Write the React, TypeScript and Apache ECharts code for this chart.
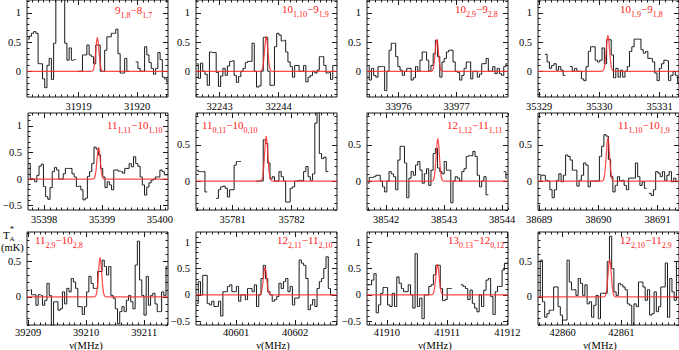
import React, { useEffect, useRef } from "react";
import * as echarts from "echarts";

// ---- data ----
const chanWidth = 0.038; // MHz per channel
const transitions: string[][] = [
  ["9", "1,8", "8", "1,7"],
  ["10", "1,10", "9", "1,9"],
  ["10", "2,9", "9", "2,8"],
  ["10", "1,9", "9", "1,8"],
  ["11", "1,11", "10", "1,10"],
  ["11", "0,11", "10", "0,10"],
  ["12", "1,12", "11", "1,11"],
  ["11", "1,10", "10", "1,9"],
  ["11", "2,9", "10", "2,8"],
  ["12", "2,11", "11", "2,10"],
  ["13", "0,13", "12", "0,12"],
  ["12", "2,10", "11", "2,9"],
];
const xRanges: number[][] = [
  [31918.115, 31920.53], [32242.6, 32244.99], [33975.457, 33977.886], [35328.98, 35331.32],
  [35397.72, 35400.14], [35780.38, 35782.77], [38541.67, 38544.1], [38688.98, 38691.36],
  [39208.98, 39211.41], [40600.32, 40602.71], [41909.67, 41912.01], [42859.58, 42861.98],
];
const yRanges: number[][] = [
  [-0.44, 1.22], [-0.44, 1.22], [-0.44, 1.22], [-0.44, 1.22],
  [-0.58, 1.24], [-0.4, 0.94], [-0.4, 0.94], [-0.4, 0.94],
  [-0.4, 0.92], [-0.57, 1.19], [-0.57, 1.19], [-0.4, 0.92],
];
const xTickLabels: number[][] = [
  [31919, 31920], [32243, 32244], [33976, 33977], [35329, 35330, 35331],
  [35398, 35399, 35400], [35781, 35782], [38542, 38543, 38544], [38689, 38690, 38691],
  [39209, 39210, 39211], [40601, 40602], [41910, 41911, 41912], [42860, 42861],
];
const yTickLabels = [-0.5, 0, 0.5, 1];
const firstChannel = [
  31918.134, 32242.619, 33975.476, 35329.036,
  35397.739, 35780.399, 38541.689, 38689.009,
  39209.039, 40600.339, 41909.689, 42859.599,
];
const fitCenters = [
  31919.32, 32243.79, 33976.66, 35330.14,
  35398.94, 35781.57, 38542.89, 38690.16,
  39210.24, 40601.49, 41910.84, 42860.8,
];
const fitPeaks = [0.58, 0.6, 0.55, 0.62, 0.6, 0.62, 0.59, 0.6, 0.56, 0.53, 0.58, 0.53];
// line profile of the fitted red curve (offset in MHz, fraction of peak)
const fitOffsets = [-0.12, -0.09, -0.075, -0.06, -0.045, -0.03, -0.015, 0, 0.015, 0.03, 0.045, 0.06, 0.075, 0.09, 0.12];
const fitProfile = [0, 0.005, 0.025, 0.094, 0.265, 0.554, 0.86, 1, 0.86, 0.554, 0.265, 0.094, 0.025, 0.005, 0];

const spec1 = [0.55,0.6,0.65,0.68,0.65,0.13,0.13,-0.13,-0.28,0.1,0.22,-0.14,0.48,1.5,1.5,1.5,1.5,0.48,0.19,0.4,0.19,0.2,null,0,0,0.28,0.28,0.45,0.28,0.25,0.13,0.45,0.45,0,0,0.36,0.59,0.59,0.65,0.65,0.72,0.3,-0.03,-0.03,0.22,0,null,null,null,0.16,0.05,0,0,0.42,0.28,0.15,0.05,-0.05,0.05,0.32,0.2,-0.1,-0.13,-0.18];
const spec2 = [0.13,-0.12,0.14,0,-0.05,-0.24,0.33,0.32,0.32,-0.02,-0.26,-0.08,0.05,-0.07,0.09,0.17,0.18,-0.07,-0.19,-0.09,0,0.05,0.15,0.17,0.17,0.48,0,-0.27,-0.25,0,0.58,0.58,0,-0.24,-0.24,0.42,0.65,0.62,0.52,0.53,0.33,0.16,0.08,-0.1,0.1,0.1,0,0,0.1,-0.18,-0.1,-0.07,0,-0.03,0.02,0.25,0.25,0.1,-0.03,-0.02,-0.14,0.1,0.1];
const spec3 = [0.1,-0.15,0.05,-0.07,-0.1,0.08,0.08,0.08,-0.33,0,0.36,0.48,0.48,0.25,0.08,0.02,-0.07,0,0.05,0.05,-0.15,-0.11,0.08,0,0.19,0.33,0.33,0.19,0,0.1,0.3,0.53,0.25,-0.1,0.16,0.22,0.33,0.36,0.36,0.16,0,-0.02,-0.15,-0.07,0.05,0.16,0.16,-0.13,0,0,-0.1,-0.05,0.13,0.13,0.22,0,0,0.08,-0.04,0.05,-0.04,-0.07,0.08,0.13];
const spec4 = [null,null,0.29,0.16,0.05,0.1,0.13,0.02,0.08,0.02,-0.07,null,null,0.08,0,0.05,0,0,-0.13,-0.16,0.08,0.34,0.42,0.42,0.19,0.16,0.19,0.4,0.13,0.54,0.54,0.28,-0.11,0.05,-0.1,0.02,-0.1,0,0.08,0.34,0.42,0.55,0.55,0.55,0.37,0.31,0.34,0.22,0.22,0.16,-0.03,-0.16,0.05,0.13,0.19,0.18,-0.16,-0.07,0,-0.07,-0.19];
const spec5 = [0.29,0.01,0,-0.05,0.07,0.24,0.28,-0.14,-0.33,-0.38,-0.16,0.14,0.22,0.17,0,0,0.1,0.2,0.2,0.2,0.1,0.04,-0.14,-0.13,-0.2,-0.39,-0.36,0.05,0.14,0.29,0.6,0.56,0.45,0.2,0.04,-0.16,-0.05,-0.11,-0.2,0.17,0.17,0.15,0.14,0.11,0.2,0.2,0.29,0.23,0.42,0.29,0.24,0.04,-0.11,-0.3,-0.15,-0.07,-0.02,0,0.04,0.04,0.17,0.14,0.08,0.08];
const spec6 = [0.15,0.13,0.13,0.13,-0.15,null,null,null,null,-0.24,-0.12,-0.08,-0.07,-0.1,-0.22,-0.12,-0.12,0.22,0.27,0.27,null,null,null,null,null,null,null,0,0,0,0.57,0.52,0.25,0.03,0.06,0,0,0.13,0.06,0,-0.29,-0.29,-0.1,-0.08,0,0,0.01,0,0.13,0.2,0.06,0.01,0.1,0.8,1.2,0.38,0.31,0.33,0.13,null,null,null,null];
const spec7 = [-0.03,0.05,0.05,0.06,0.08,0.08,0,-0.08,-0.15,0,0.13,0.1,0.06,-0.12,0.29,0.48,0.48,0.25,-0.23,0.04,0.13,0.08,0.22,0.27,0.15,-0.03,0.1,0.17,-0.06,0.15,0.38,0.45,0.18,0.13,0.1,0.27,0.15,0.15,-0.3,0,0.06,0.04,0,0.13,0.17,0.34,0.35,0.35,0.41,0.34,0.08,-0.08,0,0.06,-0.19,null,null,null,null,null,null,null,0.13,0.04];
const spec8 = [0,0.08,0.08,0.01,0,-0.12,-0.23,-0.12,0.01,0.1,-0.01,0.08,0.36,0.34,0.29,0.15,0.15,-0.07,0.01,0.08,0.25,0.22,-0.08,0,0,0,0,0.34,0.48,0.64,0.62,0.3,0.06,-0.15,-0.06,0.06,0,0.01,-0.06,-0.12,0.04,0.04,0.04,0.25,0.06,-0.06,-0.01,-0.1,null,-0.17,-0.2,-0.12,0.13,0.11,0.06,0.13,0.01,0.08,0.13,-0.01,0.04,-0.01];
const spec9 = [0.1,0.03,0.03,-0.12,0.03,0.02,-0.12,-0.05,0.19,0.02,-0.5,-0.07,-0.07,-0.19,-0.17,0.07,-0.1,0.12,0.07,0.26,0.21,0.12,-0.14,-0.14,-0.25,-0.14,0.07,0.29,0.19,0.12,0.12,0.36,0.36,0.52,0.43,0.31,0.43,0.02,-0.02,-0.17,-0.38,-0.21,-0.14,-0.21,-0.05,0.02,-0.07,-0.17,0.45,0.79,0.24,0.02,-0.26,0.29,-0.12,0.02,0.05,-0.1,-0.21,-0.21,0.07,0.02,0.43];
const spec10 = [-0.16,0.25,0,0.37,0.37,-0.16,-0.19,-0.12,-0.22,-0.22,-0.12,-0.4,0.06,0.06,0.16,0.19,0.06,0.06,0.16,-0.12,0,0,-0.09,0.12,0.12,0.06,0.19,-0.22,0,0.31,0.56,0.31,0.06,0,-0.12,-0.09,-0.03,0.22,0.12,0.25,0.31,0.06,0.16,-0.19,-0.06,-0.06,0.66,0.6,0.56,0.31,-0.28,-0.19,-0.09,-0.22,0.12,0.25,0.31,0.5,0.72,0.12,0,null,null];
const spec11 = [0.19,0.19,0.28,0.4,-0.34,-0.19,0.03,0.14,0.14,-0.19,-0.22,0.03,-0.22,0.34,0.22,0.12,0.06,0.06,0.19,0,-0.25,0.78,-0.22,-0.06,-0.45,0,0,0.16,0.19,0.38,0.56,0.56,0.12,-0.11,-0.09,0.12,0.12,null,null,null,null,0.19,0.16,0.12,-0.09,0.09,-0.16,-0.25,-0.32,0,-0.22,0.09,0.28,0.31,-0.03,-0.37,0.06,0.16,0.16,0.47,0.6,0.6];
const spec12 = [0,0.52,-0.07,-0.29,-0.24,-0.19,-0.19,0.14,0.14,-0.14,-0.26,-0.33,-0.33,0.52,0.21,0.1,0.1,0.02,0.26,0.19,0.02,0.17,-0.1,-0.07,-0.29,-0.12,0.02,-0.31,0.05,0.05,0.05,0.5,0.86,0.4,0.07,0.02,0.19,0.17,0.14,0.1,-0.1,-0.12,-0.45,-0.1,-0.14,0.21,0.21,0.14,-0.05,0.1,-0.26,-0.24,0.07,-0.21,-0.14,0.14,0.14,0.48,-0.29,0.26,0.07,-0.05,0.5];
const spectra = [spec1, spec2, spec3, spec4, spec5, spec6, spec7, spec8, spec9, spec10, spec11, spec12];

// ---- layout ----
const colLefts = [27, 196, 367, 538];
const panelWidth = 141;
const rowTops = [0, 113, 232];
const rowHeights = [97, 97, 93];
const xLabelMargins = [4, 4, 2];
const labelPos = [
  [115, 10], [282, 9], [455, 9], [620, 9],
  [107, 125], [202, 125], [447, 125], [618, 125],
  [35, 240], [277, 240], [448, 240], [620, 240],
];
const nuLabelX = [86, 273, 435, 600];

const FONT = "'Liberation Serif', 'DejaVu Serif', serif";
const INK = "#1a1a1a";
const RED = "rgba(255,40,40,0.85)";

function steps(a: number, b: number, s: number): number[] {
  const out: number[] = [];
  const start = Math.ceil(a / s - 1e-9);
  const end = Math.floor(b / s + 1e-9);
  for (let k = start; k <= end; k++) out.push(+(k * s).toFixed(4));
  return out;
}

function buildOption() {
  const grid: any[] = [];
  const xAxis: any[] = [];
  const yAxis: any[] = [];
  const series: any[] = [];
  const graphic: any[] = [];
  const tickStyle = { color: INK, width: 1 };
  for (let k = 0; k < 12; k++) {
    const row = Math.floor(k / 4);
    const col = k % 4;
    grid.push({
      left: colLefts[col], top: rowTops[row], width: panelWidth, height: rowHeights[row],
      show: true, borderColor: INK, borderWidth: 1, backgroundColor: "transparent",
    });
    const [xmin, xmax] = xRanges[k];
    const [ymin, ymax] = yRanges[k];
    const xMaj = xTickLabels[k];
    const xMin = steps(xmin, xmax, 0.1);
    const yMaj = yTickLabels.filter((v) => v >= ymin && v <= ymax);
    const yMin = steps(ymin, ymax, 0.1);
    const xi = xAxis.length;
    const yi = yAxis.length;
    const noLine = { show: false, onZero: false };
    const bx = { type: "value", gridIndex: k, min: xmin, max: xmax, axisLine: noLine, splitLine: { show: false } };
    const by = { type: "value", gridIndex: k, min: ymin, max: ymax, axisLine: noLine, splitLine: { show: false } };
    xAxis.push({
      ...bx, position: "bottom",
      axisTick: { inside: true, length: 5, customValues: xMaj, lineStyle: tickStyle },
      axisLabel: { customValues: xMaj, formatter: (v: number) => String(v), margin: xLabelMargins[row], fontFamily: FONT, fontSize: 10.5, color: "#000" },
    });
    xAxis.push({ ...bx, position: "bottom", axisTick: { inside: true, length: 2.5, customValues: xMin, lineStyle: tickStyle }, axisLabel: { show: false } });
    xAxis.push({ ...bx, position: "top", axisTick: { inside: true, length: 5, customValues: xMaj, lineStyle: tickStyle }, axisLabel: { show: false } });
    xAxis.push({ ...bx, position: "top", axisTick: { inside: true, length: 2.5, customValues: xMin, lineStyle: tickStyle }, axisLabel: { show: false } });
    yAxis.push({
      ...by, position: "left",
      axisTick: { inside: true, length: 5, customValues: yMaj, lineStyle: tickStyle },
      axisLabel: { customValues: yMaj, formatter: (v: number) => (v < 0 ? "\u2212" + String(-v) : String(v)), margin: 6, fontFamily: FONT, fontSize: 10.5, color: "#000" },
    });
    yAxis.push({ ...by, position: "left", axisTick: { inside: true, length: 2.5, customValues: yMin, lineStyle: tickStyle }, axisLabel: { show: false } });
    yAxis.push({ ...by, position: "right", axisTick: { inside: true, length: 5, customValues: yMaj, lineStyle: tickStyle }, axisLabel: { show: false } });
    yAxis.push({ ...by, position: "right", axisTick: { inside: true, length: 2.5, customValues: yMin, lineStyle: tickStyle }, axisLabel: { show: false } });

    const spec = spectra[k];
    series.push({
      type: "line", xAxisIndex: xi, yAxisIndex: yi, step: "middle", symbol: "none",
      connectNulls: false, clip: true, z: 2,
      lineStyle: { color: INK, width: 1 },
      data: spec.map((v, i) => [firstChannel[k] + i * chanWidth, v]),
    });
    const c = fitCenters[k];
    const pk = fitPeaks[k];
    series.push({
      type: "line", xAxisIndex: xi, yAxisIndex: yi, symbol: "none", clip: true, z: 3,
      lineStyle: { color: RED, width: 1.2 },
      data: [[xmin, 0], ...fitOffsets.map((o, j) => [c + o, pk * fitProfile[j]]), [xmax, 0]],
    });

    const t = transitions[k];
    graphic.push({
      type: "text", x: labelPos[k][0], y: labelPos[k][1] - 6, z: 10,
      style: {
        text: `{n|${t[0]}}{s|${t[1]}}{n|\u2212${t[2]}}{s|${t[3]}}`,
        rich: {
          n: { fontFamily: FONT, fontSize: 11, fill: "#ff2020", lineHeight: 15.5, verticalAlign: "top" },
          s: { fontFamily: FONT, fontSize: 8, fill: "#ff2020", lineHeight: 15.5, verticalAlign: "bottom" },
        },
      },
    });
  }
  nuLabelX.forEach((x) => {
    graphic.push({
      type: "text", x, y: 345.5, z: 10,
      style: { text: "\u03bd(MHz)", fontFamily: FONT, fontSize: 10.5, fill: "#000", align: "center", verticalAlign: "middle" },
    });
  });
  graphic.push({ type: "text", x: 3, y: 235, style: { text: "T", fontFamily: FONT, fontSize: 11, fill: "#000", verticalAlign: "middle" } });
  graphic.push({ type: "text", x: 10, y: 229, style: { text: "*", fontFamily: FONT, fontSize: 8, fill: "#000", verticalAlign: "middle" } });
  graphic.push({ type: "text", x: 9.5, y: 239, style: { text: "A", fontFamily: FONT, fontSize: 7, fill: "#000", verticalAlign: "middle" } });
  graphic.push({ type: "text", x: 1, y: 247, style: { text: "(mK)", fontFamily: FONT, fontSize: 10.5, fill: "#000", verticalAlign: "middle" } });

  return { animation: false, backgroundColor: "#fff", grid, xAxis, yAxis, series, graphic };
}

export default function App() {
  const ref = useRef<HTMLDivElement>(null);
  useEffect(() => {
    if (!ref.current) return;
    const chart = echarts.init(ref.current, undefined, { renderer: "svg" });
    chart.setOption(buildOption() as any);
    return () => chart.dispose();
  }, []);
  return <div ref={ref} style={{ position: "fixed", left: 0, top: 0, width: 679, height: 350, background: "#fff" }} />;
}
